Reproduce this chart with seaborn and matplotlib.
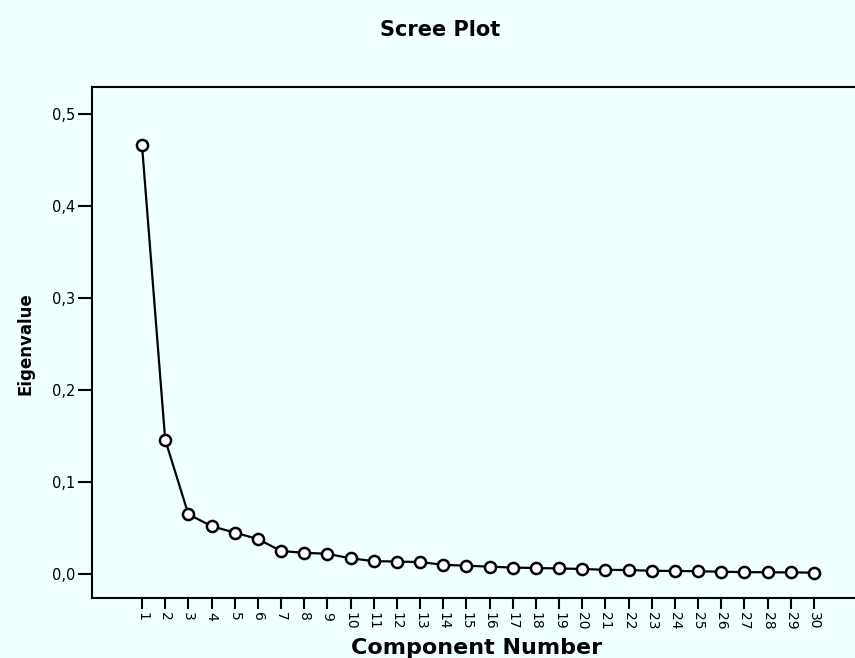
import matplotlib
matplotlib.use("Agg")
import matplotlib.pyplot as plt
import seaborn as sns
import pandas as pd
from matplotlib.ticker import FuncFormatter

components = list(range(1, 31))
eigenvalues = [0.466, 0.146, 0.065, 0.052, 0.045, 0.038, 0.025, 0.023, 0.022, 0.017,
               0.014, 0.0135, 0.013, 0.010, 0.009, 0.008, 0.007, 0.0065, 0.006, 0.0055,
               0.0045, 0.0043, 0.0035, 0.0033, 0.003, 0.0025, 0.002, 0.0019, 0.0017, 0.0015]
y_ticks = [0.0, 0.1, 0.2, 0.3, 0.4, 0.5]

df = pd.DataFrame({"Component Number": components, "Eigenvalue": eigenvalues})

sns.set_style("ticks")
plt.rcParams['font.family'] = ['DejaVu Sans']
plt.rcParams['text.color'] = 'black'
plt.rcParams['axes.labelcolor'] = 'black'
plt.rcParams['xtick.color'] = 'black'
plt.rcParams['ytick.color'] = 'black'
bg = "#f0ffff"

fig = plt.figure(figsize=(8.55, 6.58), dpi=100, facecolor=bg)
W, H = 855, 658
left, right, top, bottom = 92, 880, 87, 598
ax = fig.add_axes([left / W, 1 - bottom / H, (right - left) / W, (bottom - top) / H])
ax.set_facecolor(bg)

sns.lineplot(data=df, x="Component Number", y="Eigenvalue", ax=ax, color="black",
             linewidth=1.6, marker="o", markersize=8, markerfacecolor="white",
             markeredgecolor="black", markeredgewidth=1.8)

# axis range from pixel geometry
x_per_px = 29 / (814 - 142)
ax.set_xlim(1 - (142 - left) * x_per_px, 30 + (right - 814) * x_per_px)
y_per_px = 0.5 / (574 - 114)
ax.set_ylim(-(598 - 574) * y_per_px, 0.5 + (114 - 87) * y_per_px)

ax.set_xticks(components)
ax.set_xticklabels([str(c) for c in components], rotation=-90, fontsize=10)
ax.set_yticks(y_ticks)
ax.yaxis.set_major_formatter(FuncFormatter(lambda v, p: f"{v:.1f}".replace(".", ",")))
ax.tick_params(axis="y", labelsize=10.5, length=10, width=1.5, direction="out", pad=2,
               colors="black")
ax.tick_params(axis="x", length=8, width=1.5, direction="out", pad=2, colors="black")

for s in ["left", "top", "bottom"]:
    ax.spines[s].set_linewidth(1.5)
    ax.spines[s].set_color("black")
ax.spines["right"].set_visible(False)

ax.set_xlabel("Component Number", fontsize=16, fontweight="bold", va="center")
ax.xaxis.set_label_coords((477 - left) / (right - left), (bottom - 648) / (bottom - top))
ax.set_ylabel("Eigenvalue", fontsize=12, fontweight="bold", va="center")
ax.yaxis.set_label_coords((25 - left) / (right - left), (bottom - 344) / (bottom - top))
fig.text(440 / W, 1 - 30 / H, "Scree Plot", ha="center", va="center",
         fontsize=15, fontweight="bold")

fig.savefig("out.png", dpi=100, facecolor=bg)
